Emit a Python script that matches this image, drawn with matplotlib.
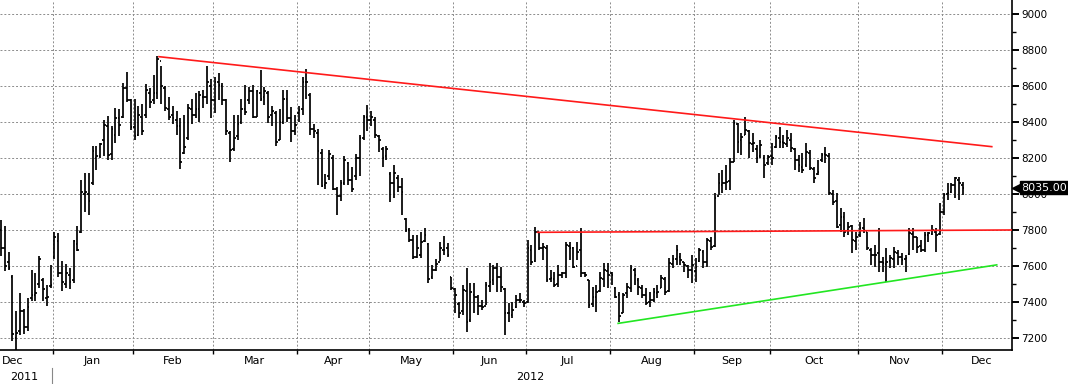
import numpy as np
import matplotlib.pyplot as plt
import matplotlib.transforms as mtransforms
from matplotlib.lines import Line2D

# Month layout (trading days shown per month / full month length for label centring)
months = ['Dec', 'Jan', 'Feb', 'Mar', 'Apr', 'May', 'Jun', 'Jul', 'Aug', 'Sep', 'Oct', 'Nov', 'Dec']
month_bars = [14, 21, 21, 22, 19, 22, 19, 22, 22, 20, 23, 22, 6]
month_days = [21, 21, 21, 22, 19, 22, 19, 22, 22, 20, 23, 22, 21]
years = ['2011', '2012']

# Daily OHLC, Dec 2011 .. Dec 2012
opens = [
    # Dec
    7800, 7700, 7620, 7540, 7200, 7240, 7350, 7260, 7420, 7440, 7500, 7520, 7420, 7490,
    # Jan
    7650, 7740, 7560, 7500, 7550, 7520, 7720, 7790, 8000, 8000, 8060, 8200, 8210, 8300, 8380, 8220,
    8330, 8420, 8430, 8590, 8520,
    # Feb
    8370, 8330, 8430, 8440, 8560, 8520, 8560, 8740, 8590, 8470, 8440, 8410, 8380, 8230, 8310, 8470,
    8440, 8470, 8540, 8540, 8600,
    # Mar
    8520, 8620, 8600, 8520, 8340, 8250, 8320, 8400, 8470, 8520, 8570, 8430, 8560, 8540, 8560, 8440,
    8450, 8300, 8400, 8530, 8420, 8350,
    # Apr
    8450, 8470, 8620, 8550, 8360, 8340, 8230, 8050, 8100, 8200, 8030, 7990, 8060, 8170, 8080, 8100,
    8200, 8310, 8430,
    # May
    8410, 8410, 8320, 8250, 8210, 8110, 8060, 8090, 8040, 7860, 7800, 7745, 7650, 7660, 7740, 7720,
    7540, 7580, 7620, 7690, 7700, 7540,
    # Jun
    7470, 7390, 7350, 7460, 7300, 7440, 7430, 7380, 7380, 7490, 7520, 7590, 7540, 7470, 7340, 7330,
    7370, 7410, 7400,
    # Jul
    7400, 7690, 7630, 7790, 7700, 7700, 7530, 7530, 7500, 7550, 7560, 7710, 7700, 7600, 7690, 7560,
    7520, 7390, 7430, 7460, 7530, 7570,
    # Aug
    7560, 7480, 7440, 7340, 7450, 7480, 7580, 7520, 7480, 7440, 7400, 7410, 7450, 7480, 7530, 7460,
    7610, 7640, 7650, 7620, 7600, 7580,
    # Sep
    7570, 7630, 7680, 7620, 7740, 7710, 7990, 8050, 8060, 8070, 8180, 8390, 8300, 8330, 8350, 8280,
    8250, 8210, 8200, 8170,
    # Oct
    8210, 8260, 8310, 8290, 8280, 8300, 8250, 8190, 8150, 8160, 8230, 8140, 8110, 8190, 8220, 8210,
    8000, 7960, 7830, 7870, 7800, 7820, 7740,
    # Nov
    7770, 7810, 7790, 7690, 7660, 7670, 7620, 7610, 7630, 7640, 7670, 7650, 7640, 7665, 7780, 7760,
    7710, 7690, 7770, 7780, 7790, 7780,
    # Dec
    7900, 8000, 8010, 8050, 8080, 8050,
]
highs = [
    7855, 7820, 7680, 7552, 7348, 7450, 7360, 7422, 7580, 7560, 7654, 7533, 7496, 7607,
    7790, 7783, 7626, 7610, 7590, 7746, 7820, 8080, 8117, 8117, 8265, 8265, 8283, 8413, 8431, 8376,
    8478, 8470, 8615, 8680, 8530,
    8530, 8490, 8500, 8610, 8590, 8660, 8766, 8710, 8600, 8540, 8490, 8460, 8420, 8440, 8500, 8530,
    8560, 8570, 8580, 8710, 8640,
    8650, 8670, 8615, 8530, 8350, 8440, 8440, 8530, 8605, 8595, 8605, 8580, 8690, 8595, 8570, 8490,
    8460, 8475, 8580, 8580, 8485, 8440,
    8490, 8650, 8696, 8560, 8390, 8360, 8250, 8110, 8244, 8215, 8040, 8080, 8210, 8180, 8150, 8220,
    8330, 8440, 8495,
    8460, 8430, 8330, 8260, 8265, 8124, 8160, 8105, 8087, 7865, 7810, 7770, 7770, 7790, 7810, 7730,
    7605, 7640, 7735, 7765, 7725, 7540,
    7476, 7400, 7494, 7587, 7504, 7504, 7439, 7411, 7513, 7615, 7606, 7615, 7596, 7476, 7393, 7402,
    7439, 7448, 7411,
    7744, 7717, 7818, 7791, 7726, 7717, 7578, 7569, 7606, 7569, 7735, 7735, 7707, 7735, 7809, 7569,
    7522, 7485, 7494, 7569, 7615, 7615,
    7569, 7485, 7457, 7448, 7504, 7606, 7587, 7531, 7494, 7476, 7457, 7476, 7494, 7550, 7541, 7643,
    7661, 7717, 7670, 7624, 7606, 7661,
    7643, 7698, 7689, 7754, 7763, 8004, 8115, 8133, 8161, 8198, 8411, 8393, 8337, 8430, 8356, 8337,
    8272, 8300, 8217, 8217,
    8281, 8328, 8374, 8328, 8356, 8337, 8254, 8217, 8226, 8281, 8244, 8152, 8189, 8226, 8263, 8226,
    8022, 8004, 7920, 7902, 7846, 7828, 7791,
    7846, 7865, 7791, 7698, 7717, 7809, 7652, 7698, 7661, 7707, 7689, 7670, 7661, 7809, 7809, 7763,
    7744, 7791, 7791, 7828, 7809, 7948,
    8004, 8059, 8059, 8096, 8096, 8068,
]
lows = [
    7655, 7570, 7580, 7181, 7135, 7218, 7220, 7237, 7404, 7404, 7478, 7404, 7376, 7478,
    7640, 7540, 7459, 7480, 7470, 7506, 7681, 7783, 7900, 7885, 8052, 8135, 8200, 8209, 8190, 8191,
    8283, 8320, 8420, 8510, 8355,
    8300, 8320, 8330, 8420, 8480, 8500, 8530, 8500, 8460, 8410, 8390, 8330, 8140, 8220, 8300, 8390,
    8420, 8400, 8480, 8500, 8420,
    8450, 8520, 8495, 8330, 8180, 8240, 8300, 8390, 8440, 8500, 8420, 8430, 8515, 8495, 8395, 8380,
    8265, 8300, 8390, 8400, 8290, 8330,
    8400, 8440, 8530, 8330, 8310, 8050, 8040, 8030, 8080, 8020, 7885, 7960, 8050, 8050, 8010, 8080,
    8100, 8300, 8350,
    8380, 8310, 8235, 8150, 8190, 7957, 7976, 8010, 7883, 7790, 7735, 7640, 7643, 7643, 7735, 7505,
    7530, 7570, 7625, 7660, 7650, 7467,
    7337, 7310, 7328, 7235, 7290, 7337, 7328, 7355, 7383, 7457, 7494, 7457, 7457, 7217, 7290, 7310,
    7365, 7393, 7374,
    7393, 7606, 7624, 7689, 7633, 7513, 7513, 7485, 7485, 7531, 7531, 7633, 7587, 7633, 7541, 7541,
    7365, 7374, 7346, 7457, 7485, 7476,
    7494, 7420, 7290, 7337, 7420, 7457, 7494, 7439, 7420, 7383, 7374, 7402, 7420, 7476, 7440, 7457,
    7587, 7606, 7606, 7568, 7531, 7504,
    7513, 7624, 7587, 7596, 7689, 7707, 7994, 8004, 8022, 8022, 8180, 8226, 8217, 8328, 8198, 8235,
    8170, 8198, 8087, 8161,
    8161, 8254, 8254, 8254, 8263, 8235, 8133, 8124, 8115, 8152, 8133, 8059, 8105, 8180, 8170, 7994,
    7939, 7809, 7791, 7763, 7772, 7670, 7689,
    7763, 7781, 7689, 7606, 7596, 7568, 7568, 7513, 7587, 7587, 7606, 7606, 7568, 7661, 7689, 7670,
    7680, 7680, 7735, 7772, 7680, 7772,
    7883, 7967, 8004, 7976, 7967, 7994,
]
closes = [
    7700, 7600, 7590, 7220, 7230, 7350, 7260, 7370, 7440, 7450, 7640, 7470, 7430, 7495,
    7760, 7560, 7510, 7560, 7510, 7737, 7690, 8010, 8010, 7960, 8240, 8210, 8280, 8385, 8215, 8360,
    8420, 8385, 8590, 8520, 8370,
    8320, 8440, 8350, 8580, 8510, 8560, 8750, 8600, 8480, 8430, 8420, 8380, 8180, 8260, 8480, 8440,
    8470, 8550, 8540, 8620, 8520,
    8625, 8605, 8520, 8350, 8245, 8310, 8390, 8475, 8455, 8570, 8430, 8570, 8530, 8570, 8430, 8460,
    8290, 8400, 8530, 8420, 8350, 8385,
    8465, 8625, 8620, 8360, 8350, 8240, 8045, 8060, 8220, 8030, 7990, 8060, 8190, 8080, 8030, 8200,
    8310, 8430, 8410,
    8430, 8330, 8300, 8200, 8250, 8060, 8115, 8040, 8013, 7800, 7745, 7650, 7700, 7735, 7770, 7530,
    7575, 7610, 7700, 7690, 7660, 7475,
    7440, 7340, 7465, 7290, 7457, 7430, 7380, 7374, 7494, 7513, 7587, 7541, 7485, 7340, 7337, 7355,
    7411, 7411, 7393,
    7698, 7624, 7791, 7700, 7707, 7522, 7531, 7494, 7550, 7559, 7717, 7698, 7596, 7680, 7560, 7550,
    7383, 7430, 7457, 7531, 7578, 7550,
    7550, 7430, 7320, 7440, 7485, 7587, 7550, 7485, 7439, 7393, 7411, 7457, 7457, 7531, 7457, 7615,
    7640, 7689, 7633, 7606, 7578, 7606,
    7596, 7689, 7624, 7744, 7707, 7976, 8059, 8059, 8068, 8180, 8393, 8291, 8318, 8356, 8281, 8281,
    8200, 8272, 8161, 8207,
    8198, 8318, 8291, 8281, 8309, 8254, 8189, 8161, 8133, 8235, 8143, 8087, 8124, 8217, 8217, 8004,
    7957, 7818, 7874, 7791, 7818, 7744, 7763,
    7809, 7800, 7698, 7661, 7661, 7624, 7615, 7624, 7643, 7680, 7652, 7633, 7643, 7781, 7763, 7707,
    7689, 7772, 7781, 7800, 7772, 7902,
    7994, 8004, 8050, 8087, 8059, 8035,
]
last_price = 8035.00

# Trend lines drawn on the chart: (bar index, price) endpoints
resistance_x = [41.4, 259.6]
resistance_y = [8763, 8263]
neckline_x = [140.6, 264.9]
neckline_y = [7787, 7800]
support_x = [161.7, 260.9]
support_y = [7281, 7606]

fig = plt.figure(figsize=(10.68, 3.84), dpi=100)
ax = fig.add_axes([0.0, 1 - 350 / 384, 1012 / 1068, 350 / 384])

x = np.arange(len(closes))
bar_kw = dict(color='black', linewidth=1.25, zorder=3)
ax.vlines(x, lows, highs, **bar_kw)
ax.hlines(opens, x - 0.45, x, **bar_kw)
ax.hlines(closes, x, x + 0.45, **bar_kw)

ax.plot(resistance_x, resistance_y, color='#ff1a1a', lw=1.2, zorder=4)
ax.plot(neckline_x, neckline_y, color='#ff1a1a', lw=1.2, zorder=4)
ax.plot(support_x, support_y, color='#22e622', lw=1.2, zorder=4)

ax.set_xlim(-0.26, 264.9)
ax.set_ylim(7133, 9078)

# month boundaries as major ticks, month names as minor ticks
ends = np.cumsum(month_bars) - 0.5
starts = np.concatenate([[ends[0] - month_days[0]], ends[:-1]])
centres = starts + np.array(month_days) / 2
ax.set_xticks(ends[:-1])
ax.set_xticklabels([])
ax.set_xticks(centres, minor=True)
ax.set_xticklabels(months, minor=True)
ax.tick_params(axis='x', which='major', direction='out', length=3, width=1, color='black')
ax.tick_params(axis='x', which='minor', length=0, pad=4, labelsize=8)

ax.yaxis.tick_right()
ax.set_yticks(np.arange(7200, 9001, 200))
ax.set_yticks(np.arange(7200, 9001, 100), minor=True)
ax.tick_params(axis='y', which='major', direction='out', length=5, width=1.4, pad=1.5, labelsize=7.5)
ax.tick_params(axis='y', which='minor', direction='out', length=3, width=1)

ax.grid(True, which='major', color='#8c8c8c', linestyle=(0, (2, 2)), linewidth=0.7)
ax.set_axisbelow(True)
for side in ['left', 'top']:
    ax.spines[side].set_visible(False)
ax.spines['bottom'].set_linewidth(1.2)
ax.spines['right'].set_linewidth(1.2)

# year labels under the months
fig.text(24 / 1068, 1 - 377 / 384, years[0], ha='center', va='center', fontsize=8)
fig.text(530 / 1068, 1 - 377 / 384, years[1], ha='center', va='center', fontsize=8)
fig.add_artist(Line2D([52 / 1068, 52 / 1068], [0, 1 - 368 / 384], color='#888888', lw=0.8))

# last price tag
trans = mtransforms.blended_transform_factory(ax.transAxes, ax.transData)
ax.annotate('%.2f' % last_price, xy=(1, last_price), xycoords=trans,
            xytext=(9, 0), textcoords='offset pixels', ha='left', va='center',
            color='white', fontsize=8,
            bbox=dict(boxstyle='square,pad=0.12', fc='black', ec='black'), zorder=6)
tip = mtransforms.offset_copy(trans, fig=fig, x=5, y=0, units='dots')
ax.plot([1], [last_price], marker='<', markersize=7, color='black', transform=tip, clip_on=False, zorder=6)

fig.savefig('out.png', dpi=100)
